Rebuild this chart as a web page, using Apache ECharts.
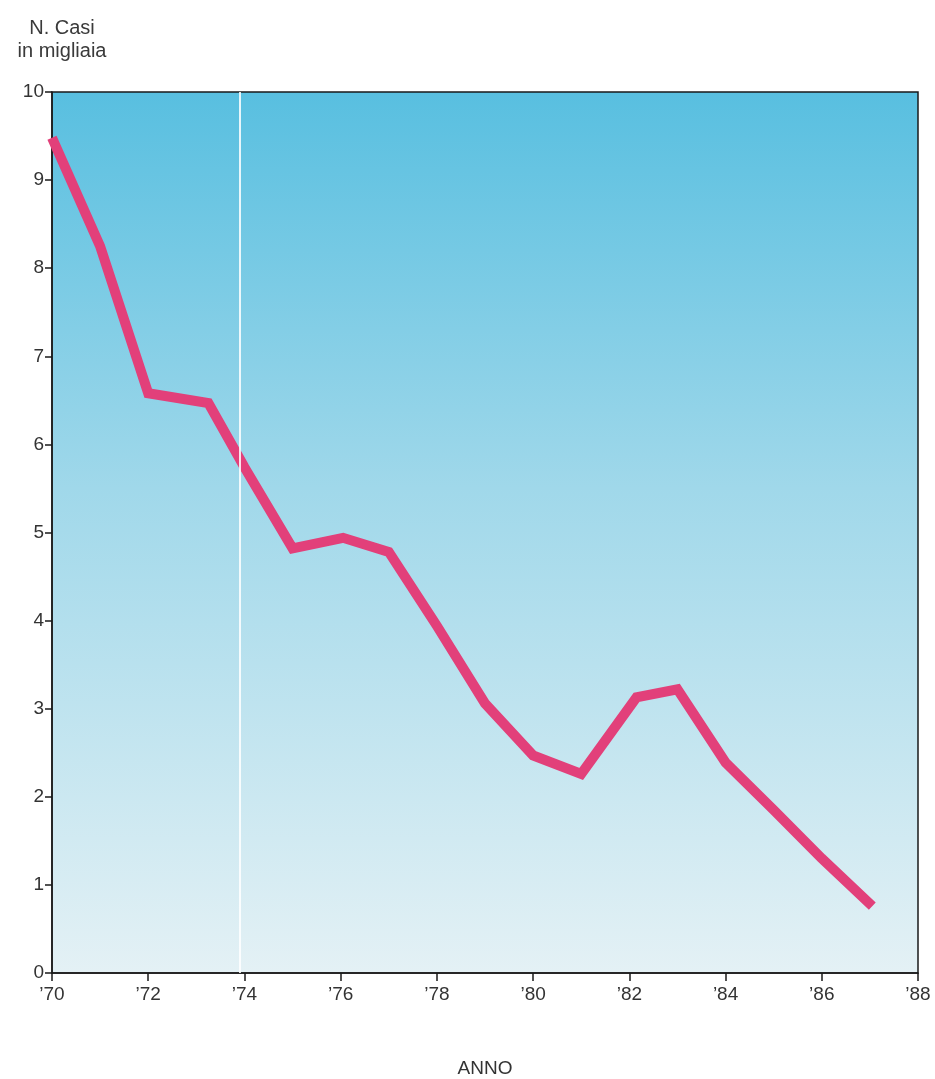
<!DOCTYPE html>
<html>
<head>
<meta charset="utf-8">
<script src="https://cdn.jsdelivr.net/npm/echarts@6/dist/echarts.min.js"></script>
<style>
html,body{margin:0;padding:0;background:#fff;}
#c{width:935px;height:1079px;}
</style>
</head>
<body>
<div id="c"></div>
<script>
// Data
const years = [1970, 1971, 1972, 1973.25, 1974, 1975, 1976.05, 1977, 1978, 1979, 1980, 1981, 1982.15, 1983, 1984, 1985, 1986, 1987.05];
const cases = [9.48, 8.25, 6.58, 6.47, 5.74, 4.82, 4.94, 4.78, 3.94, 3.06, 2.47, 2.26, 3.13, 3.22, 2.39, 1.85, 1.3, 0.76];
const yTicks = [0, 1, 2, 3, 4, 5, 6, 7, 8, 9, 10];
const xTickYears = [1970, 1972, 1974, 1976, 1978, 1980, 1982, 1984, 1986, 1988];

const font = 'Liberation Sans, Arial, Helvetica, sans-serif';
const chart = echarts.init(document.getElementById('c'));
chart.setOption({
  animation: false,
  backgroundColor: '#ffffff',
  title: {
    text: 'N. Casi\nin migliaia',
    left: 57, top: 12, textAlign: 'center',
    textStyle: {fontFamily: font, fontSize: 20, fontWeight: 'normal', color: '#3a3a3a', lineHeight: 23}
  },
  grid: {
    left: 52, right: 17, top: 92, bottom: 106,
    outerBoundsMode: 'none',
    containLabel: false,
    show: true,
    borderColor: '#1a1a1a', borderWidth: 1.5,
    backgroundColor: {
      type: 'linear', x: 0, y: 0, x2: 0, y2: 1,
      colorStops: [
        {offset: 0, color: '#58bfe0'},
        {offset: 0.45, color: '#a0d8ea'},
        {offset: 1, color: '#e4f1f5'}
      ]
    }
  },
  xAxis: {
    type: 'value', min: 1970, max: 1988, interval: 2,
    name: 'ANNO', nameLocation: 'middle', nameGap: 86,
    nameTextStyle: {fontFamily: font, fontSize: 19, color: '#333'},
    axisLine: {show: true, lineStyle: {color: '#1a1a1a', width: 1.5}},
    axisTick: {show: true, length: 8, inside: false, lineStyle: {color: '#1a1a1a', width: 1.5}},
    axisLabel: {
      fontFamily: font, fontSize: 19, color: '#333', margin: 12,
      formatter: v => xTickYears.includes(v) ? '\u2019' + String(v % 100).padStart(2, '0') : ''
    },
    splitLine: {show: false}
  },
  yAxis: {
    type: 'value', min: 0, max: 10, interval: 1,
    axisLine: {show: true, lineStyle: {color: '#1a1a1a', width: 1.5}},
    axisTick: {show: true, length: 7, lineStyle: {color: '#1a1a1a', width: 1.5}},
    axisLabel: {
      fontFamily: font, fontSize: 19, color: '#333', margin: 8,
      formatter: v => yTicks.includes(v) ? String(v) : ''
    },
    splitLine: {show: false}
  },
  series: [{
    type: 'line',
    data: years.map((y, i) => [y, cases[i]]),
    symbol: 'none',
    lineStyle: {color: '#e2407a', width: 10, join: 'miter', cap: 'butt'},
    markLine: {
      silent: true, symbol: 'none', label: {show: false},
      lineStyle: {color: 'rgba(255,255,255,0.85)', type: 'solid', width: 2},
      data: [{xAxis: 1973.9}]
    },
    z: 3
  }]
});
</script>
</body>
</html>
